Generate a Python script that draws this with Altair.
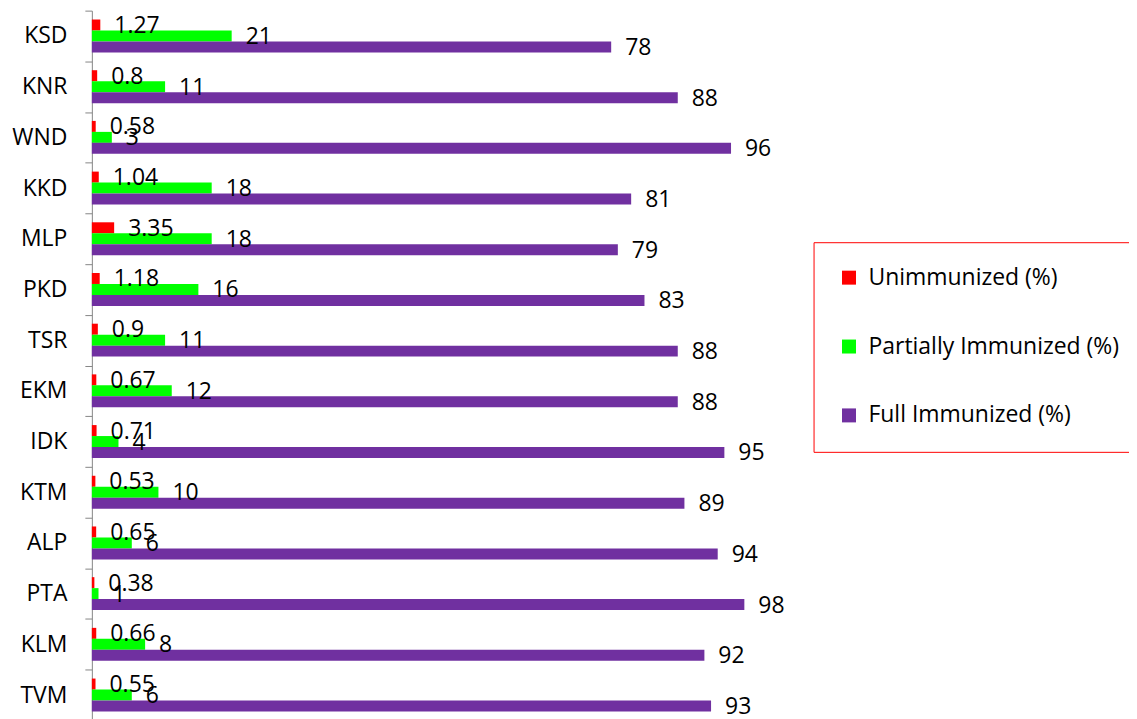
import altair as alt
import pandas as pd

districts = ["KSD", "KNR", "WND", "KKD", "MLP", "PKD", "TSR", "EKM", "IDK", "KTM", "ALP", "PTA", "KLM", "TVM"]
unimmunized = [1.27, 0.8, 0.58, 1.04, 3.35, 1.18, 0.9, 0.67, 0.71, 0.53, 0.65, 0.38, 0.66, 0.55]
partially = [21, 11, 3, 18, 18, 16, 11, 12, 4, 10, 6, 1, 8, 6]
full = [78, 88, 96, 81, 79, 83, 88, 88, 95, 89, 94, 98, 92, 93]

series_names = ["Unimmunized (%)", "Partially Immunized (%)", "Full Immunized (%)"]
series_colors = ["#FF0000", "#00FF00", "#7030A0"]

rows = []
for name, vals in zip(series_names, [unimmunized, partially, full]):
    for d, v in zip(districts, vals):
        rows.append({"district": d, "series": name, "value": v, "label": f"{v:g}"})
df = pd.DataFrame(rows)

FONT = "Open Sans"
FS = 23

y_enc = alt.Y("district:N", sort=districts, title=None,
              scale=alt.Scale(paddingInner=0, paddingOuter=0),
              axis=alt.Axis(labelFont=FONT, labelFontSize=FS, labelColor="#000000",
                            domainColor="#868686", tickColor="#868686", tickSize=7,
                            labelPadding=18, tickBand="extent"))
yoff = alt.YOffset("series:N", sort=series_names,
                   scale=alt.Scale(paddingInner=0, paddingOuter=0.81))
x_enc = alt.X("value:Q", scale=alt.Scale(domain=[0, 100], nice=False), axis=None)

bars = alt.Chart(df).mark_bar(size=11).encode(
    x=x_enc,
    y=y_enc,
    yOffset=yoff,
    color=alt.Color("series:N", sort=series_names,
                    scale=alt.Scale(domain=series_names, range=series_colors),
                    legend=alt.Legend(title=None, orient="none", legendX=723, legendY=232,
                                      symbolType="square", symbolSize=196, symbolStrokeWidth=0,
                                      labelFont=FONT, labelFontSize=FS, labelColor="#000000",
                                      labelOffset=8, labelLimit=600, rowPadding=45, padding=24,
                                      strokeColor="#FF0000", fillColor="#FFFFFF")),
)

texts = alt.Chart(df).mark_text(align="left", baseline="middle", dx=14, dy=1,
                                font=FONT, fontSize=FS, color="#000000").encode(
    x=x_enc,
    y=alt.Y("district:N", sort=districts, title=None),
    yOffset=yoff,
    text="label:N",
)

chart = alt.layer(bars, texts).properties(
    width=667, height=711,
    autosize=alt.AutoSizeParams(type="none"),
    padding={"left": 84, "top": 2, "right": 372, "bottom": 0},
).configure_view(stroke=None).configure_legend(strokeColor="#FF0000")

chart.save("out.html", embed_options={"renderer": "svg", "actions": False})
